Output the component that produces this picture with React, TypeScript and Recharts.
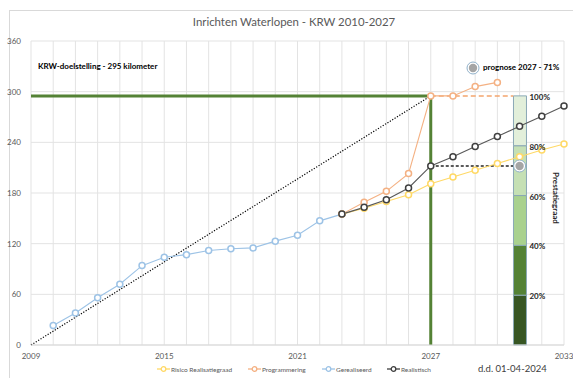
import React from 'react';
import {
  ComposedChart, Line, Bar, XAxis, YAxis, CartesianGrid, ReferenceLine, ReferenceDot, LabelList,
} from 'recharts';

const years = [2009, 2010, 2011, 2012, 2013, 2014, 2015, 2016, 2017, 2018, 2019, 2020, 2021, 2022, 2023, 2024, 2025, 2026, 2027, 2028, 2029, 2030, 2031, 2032, 2033];
const labelYears = [2009, 2015, 2021, 2027, 2033];
const yTicks = [0, 60, 120, 180, 240, 300, 360];

// Gerealiseerd 2010-2023
const gerealiseerdYears = [2010, 2011, 2012, 2013, 2014, 2015, 2016, 2017, 2018, 2019, 2020, 2021, 2022, 2023];
const gerealiseerd = [23, 38, 56, 72, 94, 104, 107, 112, 114, 115, 123, 130, 147, 155];
// Programmering 2023-2030
const programmeringYears = [2023, 2024, 2025, 2026, 2027, 2028, 2029, 2030];
const programmering = [155, 169, 182, 203, 295, 295, 306, 311];
// Realistisch / Risico 2023-2033
const prognoseYears = [2023, 2024, 2025, 2026, 2027, 2028, 2029, 2030, 2031, 2032, 2033];
const realistisch = [155, 163, 172, 186, 212, 223, 235, 247, 259, 271, 283];
const risico = [155, 162, 170, 178, 191, 199, 207, 215, 223, 231, 238];

const doelstelling = 295;
const doelJaar = 2027;
const startJaar = 2009;
const prestatieJaar = 2031;
const prestatieSegments = [59, 59, 59, 59, 59];
const prestatieLabels = ['20%', '40%', '60%', '80%', '100%'];
const prestatieColors = ['#375623', '#548235', '#a9d18e', '#c5e0b4', '#e2efda'];
const prognoseWaarde = 212;
const dashEndJaar = 2030.72;

const rows = years.map((y) => {
  const r: any = { year: y };
  const gi = gerealiseerdYears.indexOf(y);
  if (gi >= 0) r.gerealiseerd = gerealiseerd[gi];
  const pi = programmeringYears.indexOf(y);
  if (pi >= 0) r.programmering = programmering[pi];
  const ri = prognoseYears.indexOf(y);
  if (ri >= 0) {
    r.realistisch = realistisch[ri];
    r.risico = risico[ri];
  }
  if (y === prestatieJaar) {
    prestatieSegments.forEach((v, i) => { r['s' + i] = v; });
  }
  return r;
});

const FONT = 'Lato, "Open Sans", sans-serif';
const BLUE = '#9dc3e6';
const ORANGE = '#f4b183';
const YELLOW = '#ffd966';
const DARK = '#595959';
const GREEN = '#548235';

const makeLabel = (text: string) => (props: any) => {
  const { x, y, width } = props;
  return (
    <text x={x + width + 3} y={y + 1} fontSize={8} fontWeight={700} fill="#262626" fontFamily={FONT} dominantBaseline="central">
      {text}
    </text>
  );
};

const PrognoseDot = (props: any) => {
  const { cx, cy } = props;
  return (
    <g>
      <circle cx={cx} cy={cy} r={6} fill="#fff" stroke="#8fb0c9" strokeWidth={1} />
      <circle cx={cx} cy={cy} r={4.2} fill="#a5a5a5" />
    </g>
  );
};

const legendItems = [
  { name: 'Risico Realisatiegraad', color: YELLOW, dot: YELLOW, left: 157 },
  { name: 'Programmering', color: ORANGE, dot: ORANGE, left: 248 },
  { name: 'Gerealiseerd', color: BLUE, dot: BLUE, left: 322 },
  { name: 'Realistisch', color: '#404040', dot: '#404040', left: 387 },
];

export default function App() {
  return (
    <div style={{ position: 'fixed', left: 0, top: 0, width: 573, height: 378, background: '#fff', overflow: 'hidden', fontFamily: FONT }}>
      <div style={{ position: 'absolute', left: 9, top: 10, width: 600, height: 400, border: '1px solid #d9d9d9' }} />
      <div style={{ position: 'absolute', left: 0, width: 588, top: 15, textAlign: 'center', fontSize: 11.4, color: '#595959', whiteSpace: 'nowrap' }}>
        Inrichten Waterlopen - KRW 2010-2027
      </div>
      <div style={{ position: 'absolute', left: 0, top: 0 }}>
        <ComposedChart width={573} height={378} data={rows} margin={{ top: 41, right: 9, bottom: 0, left: 0 }}>
          <CartesianGrid stroke="#e3e3e3" strokeWidth={1} />
          <XAxis
            type="number"
            dataKey="year"
            domain={[2009, 2033]}
            ticks={years}
            interval={0}
            tickFormatter={(v: number) => (labelYears.includes(v) ? String(v) : '')}
            tickLine={false}
            axisLine={{ stroke: '#d9d9d9' }}
            height={33}
            tick={{ fontSize: 8, fill: '#595959', fontFamily: FONT }}
            tickMargin={2}
          />
          <YAxis
            type="number"
            domain={[0, 360]}
            ticks={yTicks}
            width={31}
            tickLine={false}
            axisLine={false}
            tick={{ fontSize: 8, fill: '#595959', fontFamily: FONT }}
            tickMargin={4}
          />
          <ReferenceLine segment={[{ x: startJaar, y: doelstelling }, { x: doelJaar, y: doelstelling }]} stroke={GREEN} strokeWidth={3} />
          <ReferenceLine segment={[{ x: doelJaar, y: doelstelling }, { x: doelJaar, y: 0 }]} stroke={GREEN} strokeWidth={3} />
          <ReferenceLine segment={[{ x: startJaar, y: 0 }, { x: doelJaar, y: doelstelling }]} stroke="#000" strokeWidth={1.2} strokeDasharray="1.2 1.6" />
          <ReferenceLine segment={[{ x: doelJaar, y: doelstelling }, { x: dashEndJaar, y: doelstelling }]} stroke="#f4a56e" strokeWidth={1.5} strokeDasharray="5 3" />
          {prestatieSegments.map((_, i) => (
            <Bar key={'s' + i} dataKey={'s' + i} stackId="p" fill={prestatieColors[i]} stroke="#8aa8b5" strokeWidth={1} barSize={13} isAnimationActive={false}>
              <LabelList dataKey={'s' + i} content={makeLabel(prestatieLabels[i])} />
            </Bar>
          ))}
          <ReferenceLine segment={[{ x: doelJaar, y: prognoseWaarde }, { x: prestatieJaar, y: prognoseWaarde }]} stroke="#262626" strokeWidth={1.5} strokeDasharray="3 2" />
          <Line dataKey="gerealiseerd" stroke={BLUE} strokeWidth={1.1} dot={{ r: 3, stroke: BLUE, strokeWidth: 1.5, fill: '#fff' }} isAnimationActive={false} />
          <Line dataKey="risico" stroke={YELLOW} strokeWidth={1.1} dot={{ r: 3, stroke: YELLOW, strokeWidth: 1.5, fill: '#fff' }} isAnimationActive={false} />
          <Line dataKey="programmering" stroke={ORANGE} strokeWidth={1.1} dot={{ r: 3, stroke: ORANGE, strokeWidth: 1.5, fill: '#fff' }} isAnimationActive={false} />
          <Line dataKey="realistisch" stroke={DARK} strokeWidth={1.1} dot={{ r: 3, stroke: '#404040', strokeWidth: 1.5, fill: '#fff' }} isAnimationActive={false} />
          <ReferenceDot x={prestatieJaar} y={prognoseWaarde} r={6} shape={PrognoseDot} />
        </ComposedChart>
      </div>
      <div style={{ position: 'absolute', left: 38, top: 61, fontSize: 8, fontWeight: 700, color: '#000', whiteSpace: 'nowrap' }}>
        KRW-doelstelling - 295 kilometer
      </div>
      <svg style={{ position: 'absolute', left: 466, top: 61 }} width={14} height={14}>
        <circle cx={7} cy={7} r={6} fill="#fff" stroke="#8fb0c9" strokeWidth={1} />
        <circle cx={7} cy={7} r={4.2} fill="#a5a5a5" />
      </svg>
      <div style={{ position: 'absolute', left: 483, top: 62, fontSize: 8, fontWeight: 700, color: '#000', whiteSpace: 'nowrap' }}>
        prognose 2027 - 71%
      </div>
      <div style={{ position: 'absolute', left: 556, top: 198, transform: 'translate(-50%, -50%) rotate(90deg)', fontSize: 8, fontWeight: 700, color: '#262626', whiteSpace: 'nowrap' }}>
        Prestatiegraad
      </div>
      {legendItems.map((it) => (
        <div key={it.name} style={{ position: 'absolute', left: it.left, top: 365, display: 'flex', alignItems: 'center', whiteSpace: 'nowrap' }}>
          <svg width={13} height={8}>
            <line x1={0} y1={4} x2={13} y2={4} stroke={it.color} strokeWidth={1.3} />
            <circle cx={6.5} cy={4} r={2.3} fill="#fff" stroke={it.dot} strokeWidth={1.3} />
          </svg>
          <span style={{ fontSize: 6.5, color: '#595959', marginLeft: 1 }}>{it.name}</span>
        </div>
      ))}
      <div style={{ position: 'absolute', left: 478, top: 363, fontSize: 9.5, color: '#404040', whiteSpace: 'nowrap' }}>
        d.d. 01-04-2024
      </div>
    </div>
  );
}
